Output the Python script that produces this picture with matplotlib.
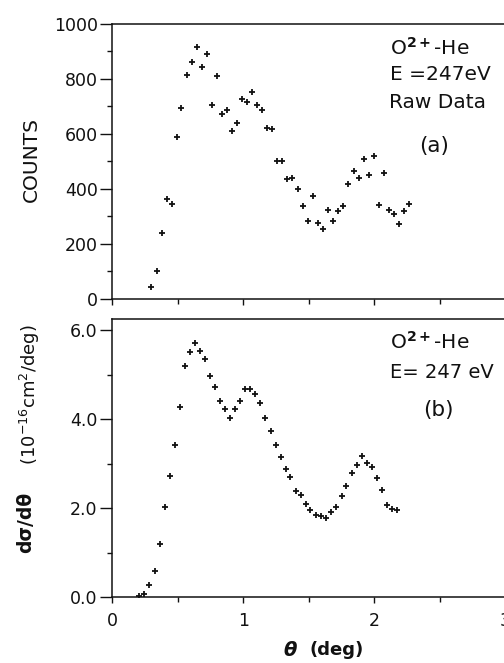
import matplotlib
matplotlib.use("Agg")
import matplotlib.pyplot as plt
from matplotlib import font_manager
from matplotlib.ticker import MultipleLocator, FormatStrFormatter

theta_a = [0.293, 0.339, 0.377, 0.415, 0.453, 0.491, 0.524, 0.568, 0.608, 0.644,
           0.685, 0.72, 0.761, 0.797, 0.837, 0.873, 0.911, 0.95, 0.99, 1.028,
           1.064, 1.105, 1.143, 1.181, 1.221, 1.26, 1.298, 1.336, 1.374, 1.418,
           1.453, 1.492, 1.53, 1.57, 1.608, 1.649, 1.685, 1.723, 1.761, 1.802,
           1.843, 1.883, 1.921, 1.96, 1.998, 2.036, 2.071, 2.112, 2.148, 2.186,
           2.224, 2.265]
counts = [45, 103, 239, 363, 344, 590, 693, 815, 861, 916,
          843, 890, 707, 812, 673, 687, 610, 639, 726, 717,
          754, 705, 687, 622, 617, 502, 502, 435, 440, 401,
          339, 284, 375, 277, 256, 323, 284, 321, 338, 417,
          467, 441, 510, 450, 520, 342, 459, 324, 310, 274,
          320, 344]

theta_b = [0.206, 0.244, 0.282, 0.324, 0.362, 0.40, 0.438, 0.479, 0.517, 0.557,
           0.593, 0.631, 0.669, 0.708, 0.746, 0.786, 0.824, 0.863, 0.901, 0.939,
           0.977, 1.015, 1.051, 1.092, 1.13, 1.168, 1.209, 1.25, 1.288, 1.324,
           1.359, 1.402, 1.438, 1.476, 1.512, 1.553, 1.591, 1.634, 1.672, 1.71,
           1.751, 1.786, 1.827, 1.866, 1.908, 1.944, 1.982, 2.02, 2.058, 2.097,
           2.135, 2.173]
dsigma = [0.04, 0.07, 0.27, 0.59, 1.20, 2.02, 2.73, 3.42, 4.27, 5.20,
          5.52, 5.71, 5.54, 5.35, 4.96, 4.73, 4.42, 4.22, 4.03, 4.22,
          4.42, 4.69, 4.67, 4.57, 4.36, 4.02, 3.74, 3.42, 3.16, 2.89,
          2.71, 2.38, 2.29, 2.10, 1.96, 1.84, 1.83, 1.78, 1.92, 2.03,
          2.28, 2.51, 2.79, 2.97, 3.18, 3.01, 2.92, 2.67, 2.40, 2.07,
          1.98, 1.96]

W, H = 504, 663
plt.rcParams['font.family'] = ['DejaVu Sans']
plt.rcParams['mathtext.fontset'] = 'dejavusans'

fig = plt.figure(figsize=(W / 100, H / 100), dpi=100)

def fx(x):
    return x / W

def fy(y):
    return 1 - y / H

left = 112.3
right = 505.3
ax1 = fig.add_axes([fx(left), fy(299), (right - left) / W, (299 - 24) / H])
ax2 = fig.add_axes([fx(left), fy(597.3), (right - left) / W, (597.3 - 319.5) / H])

ink = '#111111'
for ax in (ax1, ax2):
    ax.set_xlim(0, 3)
    ax.xaxis.set_major_locator(MultipleLocator(1))
    ax.xaxis.set_minor_locator(MultipleLocator(0.5))
    for s in ax.spines.values():
        s.set_linewidth(1.1)
        s.set_color(ink)
    ax.tick_params(axis='y', which='major', direction='out', length=8.5, width=1.0,
                   labelsize=12.5, pad=2, colors=ink)
    ax.tick_params(axis='y', which='minor', direction='out', length=3.5, width=1.0, colors=ink)
    ax.tick_params(axis='x', which='major', direction='out', length=4.5, width=1.0,
                   labelsize=12.5, pad=6, colors=ink)
    ax.tick_params(axis='x', which='minor', direction='out', length=3.5, width=1.0, colors=ink)

ax1.plot(theta_a, counts, linestyle='none', marker='+', markersize=5,
         markeredgewidth=1.3, color=ink)
ax1.set_ylim(0, 1000)
ax1.yaxis.set_major_locator(MultipleLocator(200))
ax1.yaxis.set_minor_locator(MultipleLocator(100))
ax1.tick_params(axis='x', labelbottom=False)

ax2.plot(theta_b, dsigma, linestyle='none', marker='+', markersize=5,
         markeredgewidth=1.3, color=ink)
ax2.set_ylim(0, 6.24)
ax2.yaxis.set_major_locator(MultipleLocator(2))
ax2.yaxis.set_minor_locator(MultipleLocator(1))
ax2.yaxis.set_major_formatter(FormatStrFormatter('%.1f'))

# axis labels
fig.text(fx(31.5), fy(160), 'COUNTS', rotation=90, ha='center', va='center',
         fontsize=14.5, color=ink)
fig.text(fx(26), fy(522), 'dσ/dθ', rotation=90, ha='center', va='center',
         fontsize=13.5, fontweight='bold', color=ink)
fig.text(fx(30), fy(395), r'(10$^{-16}$cm$^{2}$/deg)', rotation=90, ha='center',
         va='center', fontsize=13, color=ink)
fig.text(fx(290), fy(650), 'θ', ha='center', va='center', fontsize=14,
         fontweight='bold', style='italic', color=ink)
fig.text(fx(337), fy(650), '(deg)', ha='center', va='center', fontsize=13,
         fontweight='bold', color=ink)

# annotations
ann = 14.5
fig.text(fx(390), fy(48), r'O$^{\mathbf{2+}}$-He', ha='left', va='center', fontsize=ann, color=ink)
fig.text(fx(390), fy(75), 'E =247eV', ha='left', va='center', fontsize=ann, color=ink)
fig.text(fx(389), fy(103), 'Raw Data', ha='left', va='center', fontsize=ann, color=ink)
fig.text(fx(434), fy(146), '(a)', ha='center', va='center', fontsize=ann + 1, color=ink)

fig.text(fx(390), fy(342), r'O$^{\mathbf{2+}}$-He', ha='left', va='center', fontsize=ann, color=ink)
fig.text(fx(390), fy(372), 'E= 247 eV', ha='left', va='center', fontsize=14, color=ink)
fig.text(fx(438), fy(410), '(b)', ha='center', va='center', fontsize=ann + 1, color=ink)

fig.savefig('out.png', dpi=100)
